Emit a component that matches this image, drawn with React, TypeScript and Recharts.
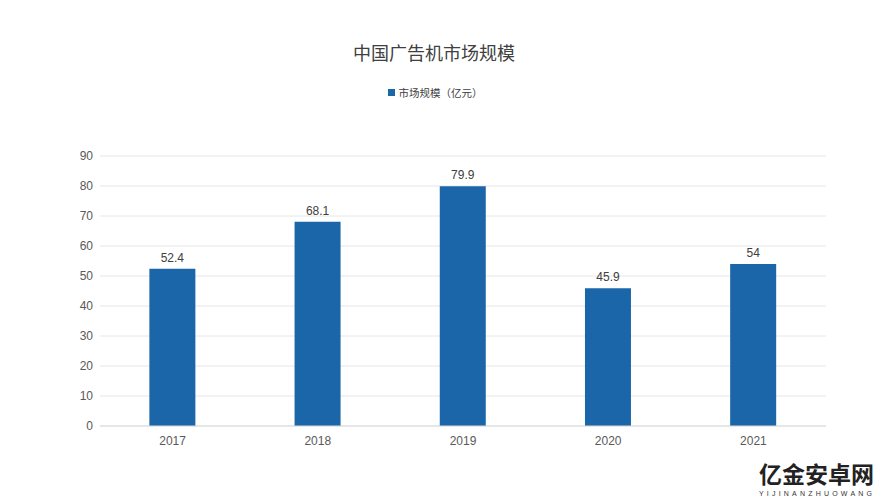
import { BarChart, Bar, XAxis, YAxis, CartesianGrid, LabelList } from 'recharts';

const years = ['2017', '2018', '2019', '2020', '2021'];
const marketSize = [52.4, 68.1, 79.9, 45.9, 54];
const yTicks = [0, 10, 20, 30, 40, 50, 60, 70, 80, 90];

const data = years.map((year, i) => ({ year, value: marketSize[i] }));

const BLUE = '#1a66a8';
const FONT = '"Liberation Sans", Arial, "Noto Sans CJK SC", sans-serif';
const CJK = '"Noto Sans CJK SC", sans-serif';

export default function App() {
  return (
    <div style={{ position: 'absolute', left: 0, top: 0, width: 889, height: 500, background: '#fff', fontFamily: FONT }}>
      <div
        style={{
          position: 'absolute',
          top: 39,
          width: 868,
          textAlign: 'center',
          fontSize: 18,
          color: '#404040',
          fontFamily: CJK,
        }}
      >
        中国广告机市场规模
      </div>
      <div
        style={{
          position: 'absolute',
          top: 85,
          width: 870,
          display: 'flex',
          justifyContent: 'center',
          alignItems: 'center',
          fontSize: 10.5,
          color: '#404040',
          fontFamily: CJK,
        }}
      >
        <span style={{ display: 'inline-block', width: 7, height: 7, background: BLUE, marginRight: 4 }} />
        市场规模（亿元）
      </div>
      <BarChart
        width={889}
        height={500}
        data={data}
        margin={{ top: 156, right: 63, left: 0, bottom: 44 }}
        barCategoryGap="34%"
      >
        <CartesianGrid vertical={false} stroke="#e6e6e6" />
        <XAxis
          dataKey="year"
          height={30}
          axisLine={{ stroke: '#d9d9d9' }}
          tickLine={false}
          tickMargin={4}
          tick={{ fontSize: 12, fill: '#595959', fontFamily: FONT }}
        />
        <YAxis
          width={100}
          domain={[0, 90]}
          ticks={yTicks}
          axisLine={false}
          tickLine={false}
          tickMargin={1}
          tick={{ fontSize: 12, fill: '#595959', fontFamily: FONT }}
        />
        <Bar dataKey="value" fill={BLUE} isAnimationActive={false}>
          <LabelList dataKey="value" position="top" offset={7} style={{ fontSize: 12, fill: '#404040', fontFamily: FONT }} />
        </Bar>
      </BarChart>
      <div
        style={{
          position: 'absolute',
          left: 759,
          top: 458,
          fontSize: 23,
          fontWeight: 'bold',
          color: '#222',
          fontFamily: CJK,
          lineHeight: '30px',
          whiteSpace: 'nowrap',
        }}
      >
        亿金安卓网
      </div>
      <div
        style={{
          position: 'absolute',
          left: 759,
          top: 489,
          fontSize: 7,
          color: '#333',
          letterSpacing: 3.2,
          lineHeight: '9px',
          whiteSpace: 'nowrap',
        }}
      >
        YIJINANZHUOWANG
      </div>
    </div>
  );
}
